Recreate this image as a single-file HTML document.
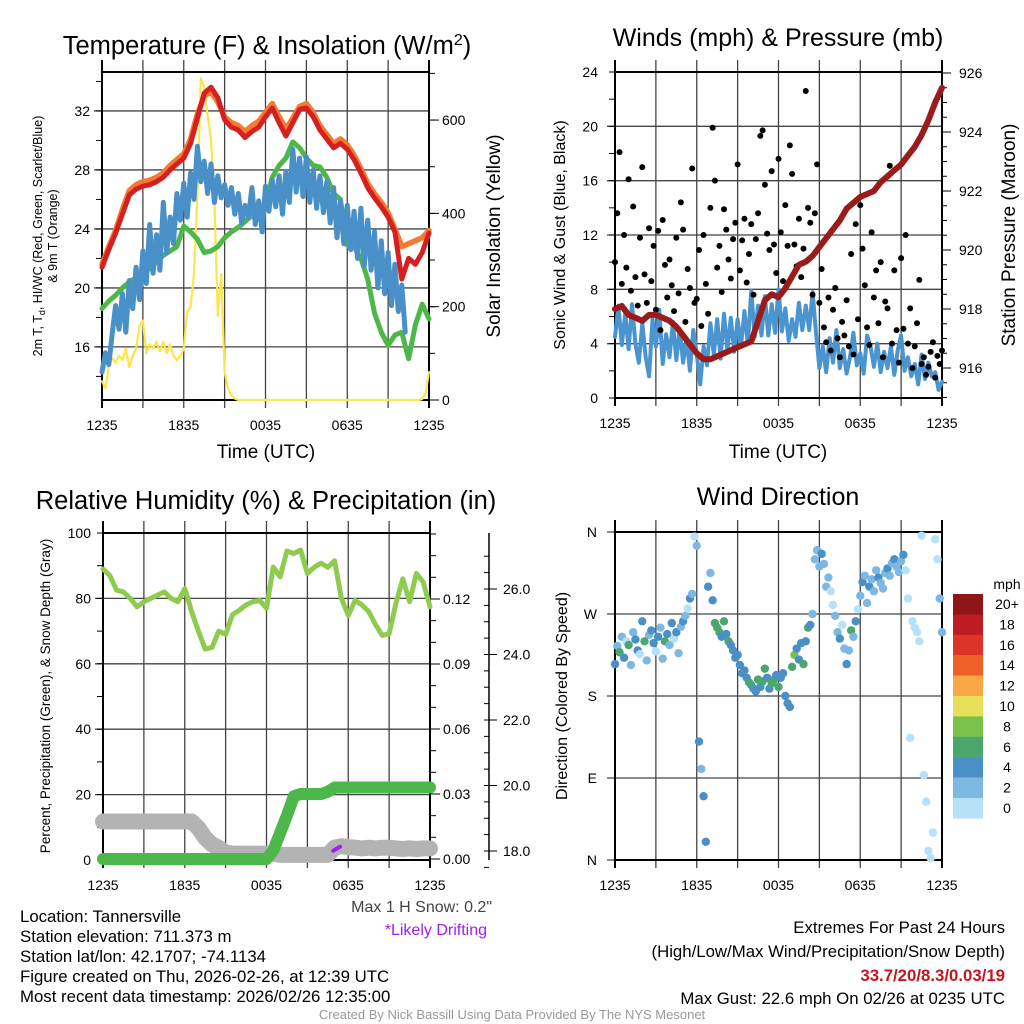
<!DOCTYPE html>
<html><head><meta charset="utf-8">
<style>
html,body{margin:0;padding:0;background:#fff;}
svg{display:block;font-family:"Liberation Sans",sans-serif;}
</style></head>
<body>
<svg id="chart" width="1024" height="1024" viewBox="0 0 1024 1024">
<rect x="0" y="0" width="1024" height="1024" fill="#fff"/>
<text x="267" y="54" font-size="25.5" text-anchor="middle">Temperature (F) &amp; Insolation (W/m<tspan dy="-9" font-size="16">2</tspan><tspan dy="9">)</tspan></text>
<text x="778" y="46" font-size="25" text-anchor="middle">Winds (mph) &amp; Pressure (mb)</text>
<text x="266" y="509" font-size="25.5" text-anchor="middle">Relative Humidity (%) &amp; Precipitation (in)</text>
<text x="778" y="505" font-size="25" text-anchor="middle">Wind Direction</text>
<text transform="translate(42,236) rotate(-90)" font-size="12.5" text-anchor="middle">2m T, T<tspan font-size="9" dy="3">d</tspan><tspan dy="-3">, HI/WC (Red, Green, Scarlet/Blue)</tspan></text>
<text transform="translate(57,236) rotate(-90)" font-size="12.5" text-anchor="middle">&amp; 9m T (Orange)</text>
<text transform="translate(500,236) rotate(-90)" font-size="19" text-anchor="middle">Solar Insolation (Yellow)</text>
<text x="266" y="458" font-size="19" text-anchor="middle">Time (UTC)</text>
<text x="778" y="458" font-size="19" text-anchor="middle">Time (UTC)</text>
<text transform="translate(565,235) rotate(-90)" font-size="16" text-anchor="middle">Sonic Wind &amp; Gust (Blue, Black)</text>
<text transform="translate(1015,235) rotate(-90)" font-size="19" text-anchor="middle">Station Pressure (Maroon)</text>
<text transform="translate(50,696) rotate(-90)" font-size="13.5" text-anchor="middle">Percent, Precipitation (Green), &amp; Snow Depth (Gray)</text>
<text transform="translate(567,696) rotate(-90)" font-size="16" text-anchor="middle">Direction (Colored By Speed)</text>
<text x="492" y="912" font-size="16" fill="#444" text-anchor="end">Max 1 H Snow: 0.2"</text>
<text x="487" y="935" font-size="16" fill="#a020f0" text-anchor="end">*Likely Drifting</text>
<g font-size="16.8">
<text x="20" y="922">Location: Tannersville</text>
<text x="20" y="942">Station elevation: 711.373 m</text>
<text x="20" y="962">Station lat/lon: 42.1707; -74.1134</text>
<text x="20" y="982">Figure created on Thu, 2026-02-26, at 12:39 UTC</text>
<text x="20" y="1002">Most recent data timestamp: 2026/02/26 12:35:00</text>
</g>
<g font-size="16.8" text-anchor="end">
<text x="1005" y="933">Extremes For Past 24 Hours</text>
<text x="1005" y="957">(High/Low/Max Wind/Precipitation/Snow Depth)</text>
<text x="1005" y="981" fill="#c8141e" font-weight="bold">33.7/20/8.3/0.03/19</text>
<text x="1005" y="1004">Max Gust: 22.6 mph On 02/26 at 0235 UTC</text>
</g>
<text x="512" y="1019" font-size="13" fill="#999" text-anchor="middle">Created By Nick Bassill Using Data Provided By The NYS Mesonet</text>
</svg>
<script>
// ---------- data ----------
const timeLabels = ["1235","1835","0035","0635","1235"];
const temp2m = [21.4,22.6,23.7,25.0,26.3,26.7,26.9,27.0,27.2,27.5,28.0,28.4,28.8,29.8,31.5,33.2,33.6,32.9,31.4,30.9,30.7,30.2,30.6,30.9,31.6,32.2,31.2,30.3,31.2,32.1,32.2,31.6,30.7,30.1,29.5,29.8,29.4,28.7,27.8,26.8,26.1,25.5,24.8,23.8,20.6,22.0,21.6,22.4,23.7];
const temp9m = [21.6,22.8,23.9,25.3,26.6,27.0,27.2,27.3,27.5,27.8,28.3,28.7,29.1,30.1,31.8,33.0,33.3,32.6,31.6,31.2,31.0,30.6,31.0,31.3,31.9,32.5,31.6,30.8,31.5,32.3,32.5,31.9,31.0,30.4,29.8,30.1,29.7,29.0,28.1,27.1,26.4,25.8,25.1,24.0,22.8,23.0,23.2,23.4,23.9];
const dewpoint = [18.6,19.1,19.5,20.0,20.4,20.7,21.0,21.3,21.8,22.2,22.5,22.8,24.2,23.8,23.3,22.4,22.5,22.8,23.4,23.8,24.1,24.5,24.9,25.2,25.7,27.5,28.3,28.8,29.9,29.5,28.8,28.3,28.2,27.5,26.4,26.0,22.9,22.8,22.0,20.6,18.3,17.0,16.1,16.8,17.0,15.2,17.5,18.9,17.9];
const windChill = [14.3,15.6,14.8,16.9,18.8,17.2,19.6,17.0,20.5,18.6,21.4,19.2,22.5,20.3,24.3,21.0,23.6,21.2,25.8,22.4,24.8,23.0,26.4,24.6,27.1,24.8,27.8,26.0,29.6,27.2,28.6,26.4,28.4,25.8,27.6,26.1,27.0,25.6,26.8,25.0,26.4,24.4,25.6,24.8,26.8,24.3,25.9,23.8,26.9,25.2,27.3,25.5,27.6,25.0,27.9,25.8,29.4,26.5,28.8,26.2,28.9,25.8,28.0,25.4,27.6,25.1,27.2,24.4,26.8,23.4,25.9,23.0,25.6,22.6,25.2,22.0,25.4,21.5,24.6,21.2,23.8,20.0,23.2,19.6,22.4,18.8,21.6,18.4,20.2,17.0,null,null,null,null,null,null,null];
const solar = [40,25,70,90,80,95,85,110,70,95,110,160,170,100,120,110,125,105,125,100,120,95,85,95,110,190,200,270,440,690,670,610,560,430,180,270,60,25,10,3,0,0,0,0,0,0,0,0,0,0,0,0,0,0,0,0,0,0,0,0,0,0,0,0,0,0,0,0,0,0,0,0,0,0,0,0,0,0,0,0,0,0,0,0,0,0,0,0,0,0,0,0,0,0,2,15,60];
const pressure = [918.0,918.1,917.8,917.7,917.6,917.8,917.8,917.7,917.6,917.4,917.1,916.8,916.5,916.3,916.3,916.4,916.5,916.6,916.7,916.8,916.9,917.6,918.3,918.5,918.4,918.7,919.1,919.5,919.6,919.8,920.1,920.4,920.7,921.0,921.4,921.6,921.8,921.9,922.0,922.3,922.5,922.7,922.9,923.2,923.5,923.9,924.4,925.0,925.5];
const windSpeed = [4.5,6.8,3.9,6.2,3.6,6.9,4.0,2.6,5.5,3.0,1.6,5.8,3.8,6.5,2.5,4.7,3.0,5.6,2.8,5.1,2.6,4.4,2.0,5.0,3.2,1.0,3.8,2.4,5.5,3.2,5.8,2.9,6.2,3.5,5.9,3.4,5.8,3.8,6.4,4.0,7.9,4.5,6.8,4.6,7.5,4.6,6.9,4.8,8.0,4.9,6.6,4.2,5.8,4.5,7.0,5.0,6.8,5.0,7.8,4.8,2.2,3.8,1.9,4.4,2.6,5.0,2.2,3.6,1.8,3.0,4.8,2.4,3.3,1.8,4.6,3.8,2.3,4.0,1.9,3.4,2.2,3.8,1.7,3.5,4.6,2.0,3.0,1.6,2.5,1.0,3.2,1.4,2.6,1.6,1.9,0.6,1.2];
const gusts = [10.0,13.6,18.1,8.4,12.0,9.6,16.1,7.9,14.1,8.9,6.8,11.8,17.0,9.1,7.0,12.5,8.6,11.2,6.5,12.3,5.0,13.1,9.8,7.4,10.2,8.3,6.4,11.8,7.7,14.4,12.4,5.6,9.5,8.1,16.9,7.0,7.3,10.9,5.3,12.0,8.4,6.2,14.0,19.9,16.0,9.6,11.2,7.8,13.9,12.4,10.2,8.8,11.7,12.9,17.2,9.4,11.6,13.2,8.5,10.6,12.8,7.6,11.7,13.6,19.3,19.7,15.7,12.1,10.9,16.7,11.3,9.2,17.6,12.2,8.6,14.2,11.2,18.6,16.5,11.3,9.7,13.2,8.9,11.0,22.6,14.0,12.9,7.6,13.6,17.2,7.0,9.5,5.2,4.1,7.4,3.5,6.5,8.1,4.4,3.0,5.6,4.6,7.2,3.8,10.6,3.2,12.8,5.8,14.2,11.0,8.3,5.2,3.9,12.2,7.4,9.4,5.5,10.0,3.0,7.1,6.6,17.1,4.0,9.4,5.0,2.6,10.3,5.1,12.0,4.0,6.6,2.2,3.8,5.5,8.7,2.5,3.0,1.7,2.3,3.4,4.1,1.5,3.1,2.5,3.5];
const relHum = [89,87,82.5,82,80,77.4,79,80,81,82,80,79,83,76,70,64.5,65,70,69,75,76.4,78,79,79.4,77,89.6,86.6,94.5,93.7,94.8,87.6,89.5,90.8,89.5,91.5,80,74.8,79.4,78,76,72,68.7,69.2,78.4,86,79,87.6,85,77.4];
const precip = [0,0,0,0,0,0,0,0,0,0,0,0,0,0,0,0,0,0,0,0,0,0,0,0,0,0.004,0.012,0.02,0.029,0.03,0.03,0.03,0.03,0.031,0.033,0.033,0.033,0.033,0.033,0.033,0.033,0.033,0.033,0.033,0.033,0.033,0.033,0.033,0.033];
const snowDepth = [18.9,18.9,18.9,18.9,18.9,18.9,18.9,18.9,18.9,18.9,18.9,18.9,18.9,18.9,18.7,18.4,18.2,18.1,17.95,17.92,17.92,17.92,17.92,17.92,17.92,17.92,17.88,17.88,17.88,17.88,17.88,17.88,17.88,17.88,18.1,18.15,18.12,18.1,18.08,18.1,18.08,18.1,18.1,18.08,18.06,18.08,18.06,18.08,18.08];
const windDir = [215,235,228,245,222,240,236,214,250,242,230,226,262,240,219,247,252,238,229,245,255,221,240,248,236,260,243,250,227,256,262,268,276,287,292,355,345,130,100,70,20,300,315,285,260,255,250,245,262,248,240,236,230,222,225,214,205,208,200,195,192,188,185,198,190,196,210,200,188,194,198,203,190,200,205,180,172,168,212,225,232,220,238,215,240,255,258,270,330,340,322,336,325,300,310,295,280,268,250,243,258,232,215,230,252,245,262,275,290,305,312,282,300,308,295,318,310,304,298,315,320,312,326,330,322,316,328,335,318,287,134,262,255,250,240,356,93,64,10,2,30,352,330,287,250];
const dirSpeed = [5.5,3.2,6.1,2.8,4.5,1.9,6.4,3.6,2.5,5.1,4.2,1.5,4.4,6.8,3.1,2.2,5.0,4.6,1.8,5.5,3.9,2.4,6.2,4.1,2.6,4.3,1.7,5.8,3.4,2.1,4.4,2.9,1.6,4.8,2.2,1.5,3.1,4.5,2.0,4.2,4.8,4.4,2.5,4.6,6.4,7.0,6.2,5.5,6.8,4.3,6.5,4.6,5.2,4.1,4.5,4.9,4.4,5.0,4.7,6.4,7.1,5.6,4.8,6.3,4.4,7.5,6.5,4.2,4.9,6.6,7.3,4.5,6.7,4.4,5.0,4.3,4.6,4.2,6.4,8.2,4.5,5.1,4.4,6.8,4.6,6.5,4.2,3.1,2.8,3.6,2.2,4.6,2.5,3.5,2.3,1.9,1.5,2.4,3.6,4.4,1.2,2.8,4.5,3.6,6.3,2.1,4.4,1.7,2.8,4.1,2.4,3.3,4.6,2.2,3.0,2.6,4.3,2.5,3.8,2.1,4.6,3.4,2.7,4.2,2.4,3.1,2.8,4.5,1.4,0.9,1.2,1.6,1.0,0.6,1.3,0.4,1.1,1.5,0.5,0.3,0.8,1.8,0.7,2.5,3.2];
const speedBinLabels = ["20+","18","16","14","12","10","8","6","4","2","0"];
const tempTicks = [16,20,24,28,32];
const solarTicks = [0,200,400,600];
const windTicks = [0,4,8,12,16,20,24];
const pressTicks = [916,918,920,922,924,926];
const rhTicks = [0,20,40,60,80,100];
const precipTicks = [0,0.03,0.06,0.09,0.12];
const snowTicks = [18,20,22,24,26];
const dirTicks = [0,90,180,270,360];
const dirLabels = ["N","E","S","W","N"];

// ---------- helpers ----------
const NS = "http://www.w3.org/2000/svg";
const svg = document.getElementById('chart');
function mk(tag, attrs, parent) {
  const e = document.createElementNS(NS, tag);
  for (const k in attrs) e.setAttribute(k, attrs[k]);
  (parent || svg).appendChild(e);
  return e;
}
function lin(d0, d1, r0, r1) { return v => r0 + (v - d0) * (r1 - r0) / (d1 - d0); }
const binColors = ["#8e1518","#bd1c24","#de3328","#ee6028","#f7a844","#e8e05a","#7bc24a","#4aa66c","#4a8fc6","#7db8e3","#b6e1f7"];
function speedColor(s) {
  if (s >= 20) return binColors[0];
  const i = Math.floor(s / 2);
  return binColors[10 - i];
}
function panelFrame(name, x0, x1, y0, y1, hGrid, yS) {
  const g = mk('g', {});
  
  
  for (let h = 0; h <= 24; h += 3) {
    const x = x0 + h * (x1 - x0) / 24;
    const gl = mk('line', {x1: x, x2: x, y1: y0 - 12, y2: y1 + 8, stroke: (h === 0 || h === 24) ? '#000' : '#444', 'stroke-width': (h === 0 || h === 24) ? 2 : 1.3}, g);
    
    
  }
  hGrid.forEach(v => {
    const y = yS(v);
    const hl = mk('line', {x1: x0 - 8, x2: x1, y1: y, y2: y, stroke: '#444', 'stroke-width': 1.3}, g);
    
    
  });
  const r = mk('rect', {x: x0, y: y0, width: x1 - x0, height: y1 - y0, fill: 'none', stroke: '#000', 'stroke-width': 2}, g);
  
  
  timeLabels.forEach((t, i) => {
    const tx = mk('text', {x: x0 + i * 6 * (x1 - x0) / 24, y: y1 + 30, 'font-size': 14, 'text-anchor': 'middle'}, g);
    tx.textContent = t;
    
    
  });
  return g;
}
function yLabels(name, ticks, labels, yS, x, anchor) {
  ticks.forEach((v, i) => {
    const t = mk('text', {x: x, y: yS(v) + 5, 'font-size': 14, 'text-anchor': anchor});
    t.textContent = labels[i];
    
    
  });
}
function minorTicks(name, from, to, step, yS, x, len) {
  for (let v = from; v <= to + 1e-9; v += step) {
    const l = mk('line', {x1: x, x2: x + len, y1: yS(v), y2: yS(v), stroke: '#000', 'stroke-width': 1});
    
    
  }
}
function series(name, vals, stepH, xS, yS, color, width, extra) {
  let d = '', pen = false;
  vals.forEach((v, i) => {
    if (v === null) { pen = false; return; }
    d += (pen ? 'L' : 'M') + xS(i * stepH).toFixed(1) + ',' + yS(v).toFixed(1);
    pen = true;
  });
  const p = mk('path', Object.assign({d: d, fill: 'none', stroke: color, 'stroke-width': width, 'stroke-linejoin': 'round', 'stroke-linecap': 'round'}, extra || {}));
  
  
  return p;
}

// ---------- panel 1: temperature ----------
{
  const x0 = 102, x1 = 429, y0 = 72, y1 = 400;
  const xS = lin(0, 24, x0, x1);
  const yT = lin(12.4, 34.64, y1, y0);
  const yR = lin(0, 703, y1, y0);
  panelFrame('temp-panel', x0, x1, y0, y1, tempTicks, yT);
  minorTicks('temp-minor', 14, 34, 2, yT, x0 - 6, 6);
  minorTicks('solar-minor', 0, 700, 100, yR, x1, 6);
  solarTicks.forEach(v => { const l = mk('line', {x1: x1, x2: x1 + 10, y1: yR(v), y2: yR(v), stroke: '#000'});   });
  yLabels('temp-y', tempTicks, tempTicks.map(String), yT, x0 - 12, 'end');
  yLabels('solar-y', solarTicks, solarTicks.map(String), yR, x1 + 13, 'start');
  series('solar-insolation-line', solar, 0.25, xS, yR, '#fde64b', 2.2);
  series('dewpoint-line', dewpoint, 0.5, xS, yT, '#4db848', 5);
  series('wind-chill-line', windChill, 0.25, xS, yT, '#4a90c8', 5);
  series('temp-9m-line', temp9m, 0.5, xS, yT, '#f47a30', 5.5);
  series('temp-2m-line', temp2m, 0.5, xS, yT, '#d42020', 5);
}

// ---------- panel 2: winds ----------
{
  const x0 = 615, x1 = 942, y0 = 72, y1 = 398;
  const xS = lin(0, 24, x0, x1);
  const yW = lin(0, 24, y1, y0);
  const yP = lin(916, 926, 368, 73);
  panelFrame('wind-panel', x0, x1, y0, y1, windTicks.slice(1, -1), yW);
  minorTicks('wind-minor', 0, 24, 2, yW, x0 - 6, 6);
  minorTicks('pressure-minor', 915, 926, 0.5, yP, x1, 5);
  pressTicks.forEach(v => { const l = mk('line', {x1: x1, x2: x1 + 9, y1: yP(v), y2: yP(v), stroke: '#000'});   });
  yLabels('wind-y', windTicks, windTicks.map(String), yW, x0 - 17, 'end');
  yLabels('pressure-y', pressTicks, pressTicks.map(String), yP, x1 + 17, 'start');
  series('sonic-wind-line', windSpeed, 0.25, xS, yW, '#4a95d0', 4);
  gusts.forEach((v, i) => {
    const c = mk('circle', {cx: xS(i * 24 / (gusts.length - 1)), cy: yW(v), r: 3, fill: '#000'});
    
    
  });
  series('pressure-line', pressure, 0.5, xS, yP, '#9b1b1b', 6);
}

// ---------- panel 3: RH & precip ----------
{
  const x0 = 103, x1 = 430, y0 = 533, y1 = 860;
  const xS = lin(0, 24, x0, x1);
  const yH = lin(0, 100, y1, y0);
  const yPr = lin(0, 0.03, 859, 794);
  const yS = lin(18, 26, 851, 589);
  panelFrame('rh-panel', x0, x1, y0, y1, rhTicks.slice(1, -1), yH);
  minorTicks('rh-minor', 0, 100, 10, yH, x0 - 6, 6);
  minorTicks('precip-minor', 0, 0.15, 0.01, yPr, x1, 6);
  precipTicks.forEach(v => { const l = mk('line', {x1: x1, x2: x1 + 10, y1: yPr(v), y2: yPr(v), stroke: '#000'});   });
  yLabels('rh-y', rhTicks, rhTicks.map(String), yH, x0 - 12, 'end');
  yLabels('precip-y', precipTicks, precipTicks.map(v => v.toFixed(2)), yPr, x1 + 13, 'start');
  const ax = mk('line', {x1: 489, x2: 489, y1: y0, y2: y1, stroke: '#000', 'stroke-width': 1.5});
  
  
  minorTicks('snow-minor', 17.5, 27, 0.5, yS, 484, 5);
  snowTicks.forEach(v => { const l = mk('line', {x1: 489, x2: 497, y1: yS(v), y2: yS(v), stroke: '#000'});   });
  yLabels('snow-y', snowTicks, snowTicks.map(v => v.toFixed(1)), yS, 503, 'start');
  series('relative-humidity-line', relHum, 0.5, xS, yH, '#8fcb4f', 5);
  series('snow-depth-line', snowDepth, 0.5, xS, yS, '#b3b3b3', 16);
  series('precipitation-line', precip, 0.5, xS, yPr, '#4cb84c', 12);
  const pr = mk('path', {d: 'M' + xS(16.9) + ',' + (yS(18.1) + 3) + 'L' + xS(17.4) + ',' + (yS(18.1) - 1), stroke: '#a020f0', 'stroke-width': 4, 'stroke-linecap': 'round', fill: 'none'});
  
  
}

// ---------- panel 4: wind direction ----------
{
  const x0 = 615, x1 = 942, y0 = 532, y1 = 860;
  const xS = lin(0, 24, x0, x1);
  const yD = lin(0, 360, y1, y0);
  panelFrame('direction-panel', x0, x1, y0, y1, dirTicks, yD);
  yLabels('direction-y', dirTicks, dirLabels, yD, x0 - 18, 'end');
  windDir.forEach((v, i) => {
    const c = mk('circle', {cx: xS(i * 24 / (windDir.length - 1)), cy: yD(v), r: 4.2, fill: speedColor(dirSpeed[i])});
    
    
  });
  const lg = mk('g', {});
  
  
  const mt = mk('text', {x: 1007, y: 589, 'font-size': 14, 'text-anchor': 'middle'}, lg);
  mt.textContent = 'mph';
  
  
  speedBinLabels.forEach((lab, i) => {
    const r = mk('rect', {x: 953, y: 594 + i * 20.4, width: 30, height: 20.6, fill: binColors[i]}, lg);
    
    
    const t = mk('text', {x: 1007, y: 609 + i * 20.4, 'font-size': 14, 'text-anchor': 'middle'}, lg);
    t.textContent = lab;
    
    
  });
}
</script>
</body></html>
